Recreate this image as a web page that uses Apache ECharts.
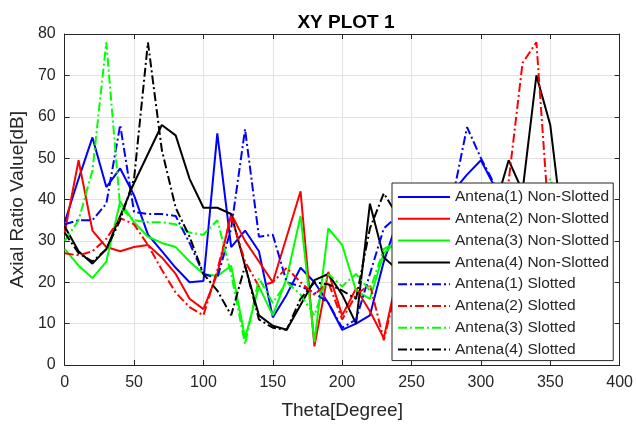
<!DOCTYPE html>
<html><head><meta charset="utf-8">
<script src="https://cdn.jsdelivr.net/npm/echarts@6/dist/echarts.min.js"></script>
<style>html,body{margin:0;padding:0;background:#fff}#c{width:636px;height:425px}</style>
</head><body><div id="c"></div>
<script>
const theta = [0,10,20,30,40,50,60,70,80,90,100,110,120,130,140,150,160,170,180,190,200,210,220,230,240,250,260,270,280,290,300,310,320,330,340,350,360];
const xTicks = [0,50,100,150,200,250,300,350,400];
const yTicks = [0,10,20,30,40,50,60,70,80];
const names = ['Antena(1) Non-Slotted','Antena(2) Non-Slotted','Antena(3) Non-Slotted','Antena(4) Non-Slotted','Antena(1) Slotted','Antena(2) Slotted','Antena(3) Slotted','Antena(4) Slotted'];
const a1NonSlotted = [34.5,45,55,43,47.5,41,31.5,27.5,23.5,20,20.3,56,28.5,32.5,27.5,11.5,17,23.5,20,15,8.5,10,12,25,35,38,40,41,42,46,49.5,43,38,35,36,33,34];
const a2NonSlotted = [32,49.5,32.5,28.5,27.5,28.5,29,26,22,16,13.5,22,36.5,30,25,20,31,42,4.5,22.5,12,18.5,13,6.5,22,25,28,26,30,27,33,38,35,30,28,25,27];
const a3NonSlotted = [28,24,21,25,39.5,34.5,31,29.5,28.5,25,22,21.5,24,6.5,19,12,21,36,5.5,33,29,18,16,27,30,31,29,27,28,30,32,34,36,38,36,34,32];
const a4NonSlotted = [33.5,27.5,24.5,28,36,44,51,58,55.5,45,38,38,36.5,24,12,9.5,8.5,14.5,20.5,22,17,10,39,26,23,25,28,30,32,34,36,38,49.5,42,70,58,30];
const a1Slotted = [34,35,35,39,58,37,36.5,36.5,36,29.5,22,21,33,57,31,31.5,20,19,17.5,15,9,11,22,33,36,34,36,38,41,57.5,50,43.5,40,38,36,35,34];
const a2Slotted = [27,26.5,27.5,30.5,35.5,34,29,23,17.5,14,12,23,36,25,19,20,23.5,20,17,20,11,17,19.5,6,20,22,25,27,30,32,30,35,44.5,73,78,30,28];
const a3Slotted = [30,35,47,78,38,35,34.5,34.5,34,32,31.5,35,22,5,21,15,20,17,12,22,19,22,18,28,30,32,30,28,30,33,35,37,40,41,38,45,35];
const a4Slotted = [32,27,25,28,35,45,78,52,38,31,22,18,12,24,11,9,8.5,16,20,19.5,18,16,33,41.5,36,30,28,30,32,34,36,38,40,41,40,38,36];

const values = [a1NonSlotted,a2NonSlotted,a3NonSlotted,a4NonSlotted,a1Slotted,a2Slotted,a3Slotted,a4Slotted];
const colors = ['#0000ff','#ff0000','#00ff00','#000000','#0000ff','#ff0000','#00ff00','#000000'];
const FONT = 'Liberation Sans, Arial, Helvetica, sans-serif';
const AX = '#262626';
const dashDot = [9,3,2,3];

const series = values.map((v,i)=>({
  name: names[i], type:'line', symbol:'none', showSymbol:false,
  data: theta.map((t,j)=>[t, v[j]]),
  lineStyle:{color:colors[i], width:2, type: i<4 ? 'solid' : dashDot},
  itemStyle:{color:colors[i]},
  z: 2
}));

const chart = echarts.init(document.getElementById('c'), null, {renderer:'canvas'});
chart.setOption({
  animation:false,
  backgroundColor:'#fff',
  title:{text:'XY PLOT 1', left:341, textAlign:'center', top:8,
    textStyle:{fontFamily:FONT, fontSize:19, fontWeight:'bold', color:'#000'}},
  grid:{left:62, right:15, top:34, bottom:59},
  legend:{orient:'vertical', left:392, top:183, itemWidth:52, itemHeight:16, itemGap:5.8,
    padding:[6,4,3,5], backgroundColor:'#fff', borderColor:AX, borderWidth:1, borderRadius:0,
    itemStyle:{opacity:0, borderWidth:0},
    textStyle:{fontFamily:FONT, fontSize:15.5, color:AX, lineHeight:16},
    data:names, z:10},
  xAxis:[{type:'value', min:xTicks[0], max:xTicks[xTicks.length-1], interval:50, position:'bottom',
    name:'Theta[Degree]', nameLocation:'middle', nameGap:36,
    nameTextStyle:{fontFamily:FONT, fontSize:19, color:AX},
    axisLine:{show:true, onZero:false, lineStyle:{color:AX, width:1}},
    axisTick:{show:true, inside:true, length:5, lineStyle:{color:AX}},
    axisLabel:{fontFamily:FONT, fontSize:16, color:AX, margin:10},
    splitLine:{show:true, lineStyle:{color:'#e2e2e2', width:1}}},
   {type:'value', min:xTicks[0], max:xTicks[xTicks.length-1], interval:50, position:'top',
    axisLine:{show:true, onZero:false, lineStyle:{color:AX, width:1}},
    axisTick:{show:true, inside:true, length:5, lineStyle:{color:AX}},
    axisLabel:{show:false}, splitLine:{show:false}}],
  yAxis:[{type:'value', min:yTicks[0], max:yTicks[yTicks.length-1], interval:10, position:'left',
    name:'Axial Ratio Value[dB]', nameLocation:'middle', nameGap:34,
    nameTextStyle:{fontFamily:FONT, fontSize:19, color:AX},
    axisLine:{show:true, onZero:false, lineStyle:{color:AX, width:1}},
    axisTick:{show:true, inside:true, length:5, lineStyle:{color:AX}},
    axisLabel:{fontFamily:FONT, fontSize:16, color:AX, margin:9},
    splitLine:{show:true, lineStyle:{color:'#e2e2e2', width:1}}},
   {type:'value', min:yTicks[0], max:yTicks[yTicks.length-1], interval:10, position:'right',
    axisLine:{show:true, onZero:false, lineStyle:{color:AX, width:1}},
    axisTick:{show:true, inside:true, length:5, lineStyle:{color:AX}},
    axisLabel:{show:false}, splitLine:{show:false}}],
  series: series
});
</script></body></html>
